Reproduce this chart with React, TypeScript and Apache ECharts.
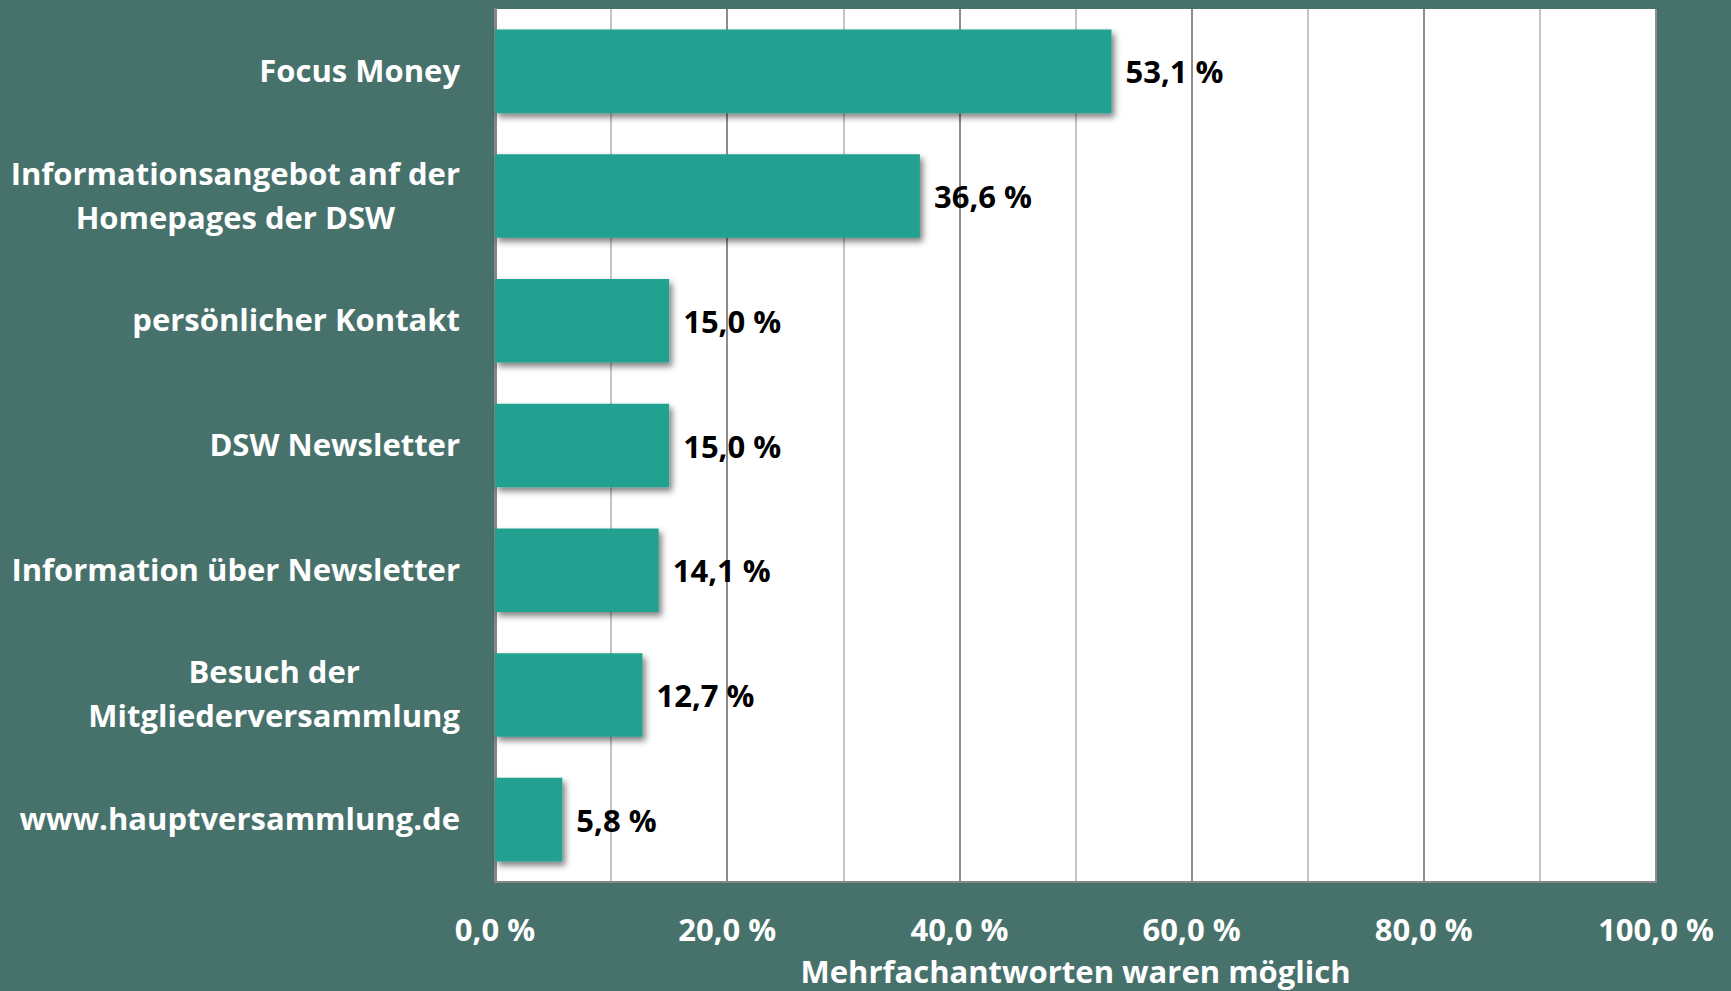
import React, { useEffect, useRef } from "react";
import * as echarts from "echarts";

const categories = [
  "Focus Money",
  "Informationsangebot anf der\nHomepages der DSW",
  "persönlicher Kontakt",
  "DSW Newsletter",
  "Information über Newsletter",
  "Besuch der\nMitgliederversammlung",
  "www.hauptversammlung.de",
];
const values = [53.1, 36.6, 15.0, 15.0, 14.1, 12.7, 5.8];
const axisTitle = "Mehrfachantworten waren möglich";

const FONT = "Open Sans";
const FS = 31;

const fmt = (v: number) => v.toFixed(1).replace(".", ",") + " %";

export default function App() {
  const ref = useRef<HTMLDivElement>(null);
  useEffect(() => {
    const chart = echarts.init(ref.current!, undefined, { renderer: "svg" });
    chart.setOption({
      animation: false,
      backgroundColor: "#47726b",
      grid: { left: 495, right: 75, top: 9, bottom: 109, containLabel: false, show: true, backgroundColor: "#ffffff", borderWidth: 0 },
      xAxis: {
        type: "value",
        min: 0,
        max: 100,
        interval: 10,
        name: axisTitle,
        nameLocation: "middle",
        nameGap: 73,
        nameTextStyle: { color: "#ffffff", fontFamily: FONT, fontWeight: "bold", fontSize: FS },
        axisLine: { show: true, lineStyle: { color: "#868686", width: 2 } },
        axisTick: { show: false },
        axisLabel: {
          color: "#ffffff",
          fontFamily: FONT,
          fontWeight: "bold",
          fontSize: FS,
          margin: 31,
          formatter: (v: number) => (Math.round(v) % 20 === 0 ? fmt(v) : ""),
        },
        splitLine: { show: true, lineStyle: { color: ["#8c8c8c", "#c4c4c4"], width: 2 } },
      },
      yAxis: {
        type: "category",
        inverse: true,
        data: categories,
        axisLine: { show: true, lineStyle: { color: "#868686", width: 3 } },
        axisTick: { show: false },
        axisLabel: {
          margin: 35,
          align: "right",
          formatter: (v: string) => v.split("\n").map((l) => `{c|${l}}`).join("\n"),
          rich: {
            c: { color: "#ffffff", fontFamily: FONT, fontWeight: "bold", fontSize: FS, align: "center", lineHeight: 44, padding: [0, 0, 3, 0] },
          },
        },
      },
      series: [
        {
          type: "bar",
          data: values,
          barWidth: "67%",
          itemStyle: {
            color: "#22a090",
            shadowColor: "rgba(0,0,0,0.5)",
            shadowBlur: 6,
            shadowOffsetX: 3,
            shadowOffsetY: 4,
          },
          label: {
            show: true,
            position: "right",
            distance: 14,
            color: "#000000",
            fontFamily: FONT,
            fontWeight: "bold",
            fontSize: FS,
            formatter: (p: any) => fmt(p.value),
          },
        },
      ],
    });
    return () => chart.dispose();
  }, []);
  return <div ref={ref} style={{ position: "fixed", left: 0, top: 0, width: 1731, height: 991 }} />;
}
